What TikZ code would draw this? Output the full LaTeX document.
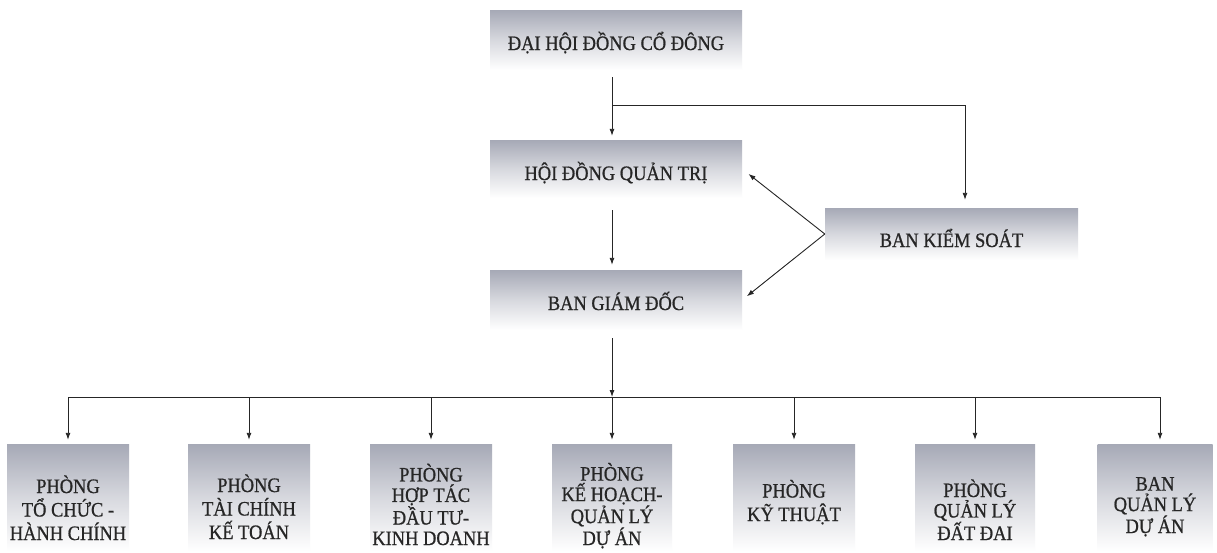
\documentclass[tikz,border=0pt]{standalone}
\usepackage{fontspec}
\setmainfont{Liberation Serif}[FakeBold=0.8,FakeStretch=0.9]
\usetikzlibrary{arrows.meta}
\definecolor{boxgray}{HTML}{A6A9B6}
\definecolor{inkc}{HTML}{262626}
\tikzset{
  box/.style={draw=none, inner sep=0pt, top color=boxgray, bottom color=white, middle color=boxgray!45},
  lbl/.style={anchor=base, text=inkc, inner sep=0pt, align=center, font=\fontsize{20.5}{22}\selectfont},
  conn/.style={draw=inkc, line width=0.9pt},
  arr/.style={conn, -{Latex[length=7pt,width=5pt]}}
}
\begin{document}
\begin{tikzpicture}[x=1pt,y=-1pt]
\useasboundingbox[fill=white] (0,0) rectangle (1217,552);
% upper boxes
\node[box, minimum width=252pt, minimum height=60pt] (dh) at (616,40) {};
\node[lbl] (dht) at (616,50) {ĐẠI HỘI ĐỒNG CỔ ĐÔNG};
\node[box, minimum width=252pt, minimum height=58pt] (hd) at (616,169) {};
\node[lbl] (hdt) at (616,180) {HỘI ĐỒNG QUẢN TRỊ};
\node[box, minimum width=252pt, minimum height=60pt] (bg) at (616,300) {};
\node[lbl] (bgt) at (616,310) {BAN GIÁM ĐỐC};
\node[box, minimum width=253pt, minimum height=52pt] (bk) at (951.5,234) {};
\node[lbl] (bkt) at (951.5,247) {BAN KIỂM SOÁT};
% bottom boxes
\foreach \n/\x/\w in {b1/68/122,b2/249/122,b3/431/122,b4/612/120,b5/794/122,b6/975/120,b7/1155/115}{
  \node[box, minimum width=\w pt, minimum height=107pt] (\n) at (\x,497.5) {};
}
\node[lbl, font=\fontsize{20.5}{23.5}\selectfont] (b1t) at (68,540) {PHÒNG\\TỔ CHỨC -\\HÀNH CHÍNH};
\node[lbl, font=\fontsize{20.5}{23.5}\selectfont] (b2t) at (249,539) {PHÒNG\\TÀI CHÍNH\\KẾ TOÁN};
\node[lbl, font=\fontsize{20.5}{20.5}\selectfont] (b3t) at (431,545) {PHÒNG\\HỢP TÁC\\ĐẦU TƯ-\\KINH DOANH};
\node[lbl, font=\fontsize{20.5}{20.5}\selectfont] (b4t) at (612,545) {PHÒNG\\KẾ HOẠCH-\\QUẢN LÝ\\DỰ ÁN};
\node[lbl, font=\fontsize{20.5}{23.5}\selectfont] (b5t) at (794,521) {PHÒNG\\KỸ THUẬT};
\node[lbl, font=\fontsize{20.5}{20.5}\selectfont] (b6t) at (975,540) {PHÒNG\\QUẢN LÝ\\ĐẤT ĐAI};
\node[lbl, font=\fontsize{20.5}{20.5}\selectfont] (b7t) at (1155,533) {BAN\\QUẢN LÝ\\DỰ ÁN};
% coordinates
\coordinate (t0) at (612,77);
\coordinate (t1) at (612,105);
\coordinate (t2) at (965,105);
\coordinate (m0) at (612,397);
\coordinate (l0) at (68,397);
\coordinate (r0) at (1160,397);
% connectors
\draw[arr, shorten >=4pt] (t0) -- (t0 |- hd.north);
\draw[arr, shorten >=8pt] (t1) -- (t2) -- (t2 |- bk.north);
\draw[arr, shorten <=12pt, shorten >=5pt] (hd.south -| t0) -- (bg.north -| t0);
\draw[arr, shorten >=8pt] (bk.west) -- (hd.east);
\draw[arr, shorten >=6pt] (bk.west) -- (bg.east);
\draw[arr] (bg.south -| t0) ++(0,8) -- (m0);
\draw[conn] (l0) -- (r0);
\foreach \n/\x in {b1/68,b2/249,b3/431,b4/612,b5/794,b6/975,b7/1160}{
  \draw[arr, shorten >=4pt] (\x,397) -- (\n.north -| \x,0);
}
\end{tikzpicture}
\end{document}
